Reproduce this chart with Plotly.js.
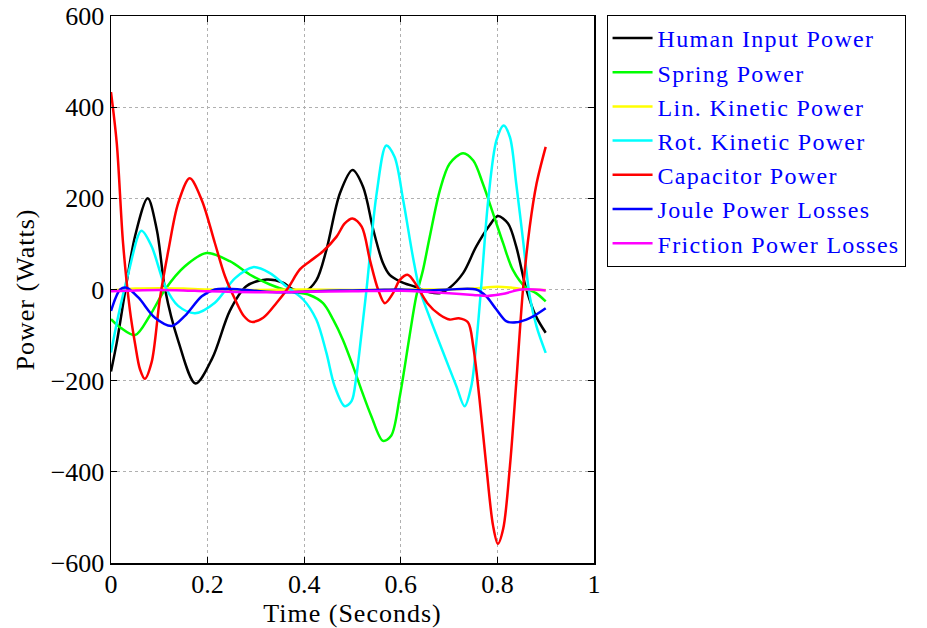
<!DOCTYPE html>
<html>
<head>
<meta charset="utf-8">
<script src="https://cdn.plot.ly/plotly-3.0.1.min.js"></script>
<style>
html,body{margin:0;padding:0;background:#fff;}
#chart{width:927px;height:628px;}
.legendtext{letter-spacing:1.3px;}
.xtitle,.ytitle{letter-spacing:1px;}
</style>
</head>
<body>
<div id="chart"></div>
<script>
var seriesNames = ["Human Input Power", "Spring Power", "Lin. Kinetic Power", "Rot. Kinetic Power", "Capacitor Power", "Joule Power Losses", "Friction Power Losses"];
var seriesColors = ["#000000", "#00ff00", "#ffff00", "#00ffff", "#ff0000", "#0000ff", "#ff00ff"];

var tHuman = [0, 0.012, 0.03, 0.05, 0.076, 0.095, 0.112, 0.139, 0.175, 0.21, 0.246, 0.28, 0.322, 0.356, 0.377, 0.401, 0.425, 0.446, 0.474, 0.50, 0.522, 0.543, 0.563, 0.577, 0.598, 0.632, 0.66, 0.68, 0.70, 0.729, 0.756, 0.784, 0.801, 0.822, 0.839, 0.86, 0.88, 0.90];
var pHuman = [-180, -116, 0, 118, 200, 130, 0, -112, -206, -150, -47, 7, 22, 15, 0, -4, 20, 87, 211, 262, 225, 131, 58, 32, 18, 5, -6, -8, 3, 36, 94, 141, 161, 145, 94, 0, -59, -95];

var tSpring = [0, 0.02, 0.05, 0.08, 0.112, 0.153, 0.198, 0.246, 0.287, 0.329, 0.37, 0.411, 0.439, 0.46, 0.48, 0.501, 0.518, 0.539, 0.563, 0.58, 0.598, 0.618, 0.632, 0.646, 0.66, 0.681, 0.701, 0.729, 0.75, 0.77, 0.791, 0.812, 0.832, 0.86, 0.88, 0.90];
var pSpring = [-65, -84, -100, -58, 0, 51, 80, 62, 33, 11, -4, -12, -30, -66, -110, -168, -219, -278, -332, -321, -234, -103, -15, 43, 116, 218, 276, 299, 283, 232, 167, 101, 43, 3, -8, -26];

var tLin = [0, 0.05, 0.1, 0.15, 0.2, 0.3, 0.4, 0.5, 0.6, 0.7, 0.75, 0.8, 0.83, 0.86, 0.9];
var pLin = [-2, 2, 3, 2, 0, -1, 0, -1, 0, 0, 2, 6, 4, 0, -1];

var tRot = [0, 0.015, 0.036, 0.063, 0.084, 0.112, 0.139, 0.174, 0.215, 0.257, 0.294, 0.329, 0.363, 0.398, 0.425, 0.446, 0.463, 0.484, 0.498, 0.508, 0.518, 0.529, 0.55, 0.57, 0.587, 0.605, 0.625, 0.639, 0.66, 0.687, 0.715, 0.732, 0.746, 0.757, 0.766, 0.781, 0.798, 0.813, 0.826, 0.839, 0.853, 0.867, 0.881, 0.90];
var pRot = [-138, -58, 36, 129, 95, 7, -36, -52, -29, 25, 49, 36, 7, -22, -66, -139, -212, -256, -245, -190, -103, 0, 211, 316, 291, 196, 72, 0, -62, -136, -212, -256, -212, -110, 0, 196, 327, 360, 334, 232, 109, -15, -81, -139];

var tCap = [0, 0.012, 0.025, 0.039, 0.05, 0.06, 0.07, 0.084, 0.101, 0.119, 0.139, 0.163, 0.188, 0.215, 0.236, 0.257, 0.275, 0.291, 0.315, 0.343, 0.367, 0.391, 0.412, 0.439, 0.467, 0.484, 0.50, 0.519, 0.536, 0.553, 0.567, 0.584, 0.598, 0.615, 0.632, 0.655, 0.68, 0.701, 0.72, 0.739, 0.75, 0.763, 0.777, 0.791, 0.801, 0.812, 0.826, 0.839, 0.853, 0.867, 0.881, 0.90];
var pCap = [433, 320, 101, -44, -120, -175, -196, -160, -22, 87, 189, 244, 196, 102, 29, -22, -58, -71, -62, -29, 4, 44, 62, 84, 116, 145, 156, 138, 65, 0, -30, -8, 21, 32, 10, -30, -55, -66, -63, -72, -125, -241, -387, -518, -558, -525, -387, -205, 0, 138, 232, 313];

var tJoule = [0, 0.019, 0.032, 0.057, 0.091, 0.126, 0.153, 0.188, 0.215, 0.25, 0.3, 0.35, 0.4, 0.45, 0.5, 0.55, 0.6, 0.65, 0.70, 0.756, 0.777, 0.798, 0.819, 0.839, 0.86, 0.874, 0.90];
var pJoule = [-47, 0, 4, -18, -62, -80, -58, -15, 0, 1, -3, -6, -5, -3, -2, -1, 0, -2, 0, 0, -15, -44, -70, -72, -66, -59, -41];

var tFric = [0, 0.05, 0.1, 0.15, 0.2, 0.3, 0.4, 0.5, 0.6, 0.65, 0.7, 0.75, 0.78, 0.81, 0.85, 0.9];
var pFric = [-4, -2, -1, -2, -4, -6, -5, -4, -3, -5, -8, -12, -14, -10, 0, -2];

var xTickVals = [0, 0.2, 0.4, 0.6, 0.8, 1];
var yTickVals = [-600, -400, -200, 0, 200, 400, 600];

var tArrays = [tHuman, tSpring, tLin, tRot, tCap, tJoule, tFric];
var pArrays = [pHuman, pSpring, pLin, pRot, pCap, pJoule, pFric];

var traces = seriesNames.map(function (name, i) {
  return {
    x: tArrays[i], y: pArrays[i], name: name, type: 'scatter', mode: 'lines',
    line: {color: seriesColors[i], width: 2.5, shape: 'spline', smoothing: 0.9}
  };
});

var fam = 'Liberation Serif, Times New Roman, serif';
var font = {family: fam, size: 26, color: '#000'};
var axisCommon = {
  showline: true, mirror: 'ticks', linecolor: '#000', linewidth: 1.5,
  ticks: 'inside', ticklen: 6, tickwidth: 1, tickcolor: '#000',
  showgrid: true, gridcolor: '#b0b0b0', gridwidth: 1, griddash: 'dot',
  zeroline: false, tickfont: font
};

var layout = {
  width: 927, height: 628,
  paper_bgcolor: '#fff', plot_bgcolor: '#fff',
  font: font,
  margin: {l: 111, r: 333, t: 16, b: 65},
  showlegend: true,
  legend: {
    x: 1.026, y: 1.002, xanchor: 'left', yanchor: 'top',
    bordercolor: '#000', borderwidth: 1, bgcolor: '#fff',
    font: {family: fam, size: 24, color: '#0000ff'},
    itemwidth: 40,
    tracegroupgap: 0
  },
  xaxis: Object.assign({}, axisCommon, {
    range: [0, 1], tickvals: xTickVals, ticktext: xTickVals.map(String),
    ticklabelstandoff: -3,
    title: {text: 'Time (Seconds)', font: font, standoff: 0}
  }),
  yaxis: Object.assign({}, axisCommon, {
    range: [-600, 600], tickvals: yTickVals,
    title: {text: 'Power (Watts)', font: font, standoff: 8}
  })
};

Plotly.newPlot('chart', traces, layout, {displayModeBar: false, staticPlot: true});
</script>
</body>
</html>
